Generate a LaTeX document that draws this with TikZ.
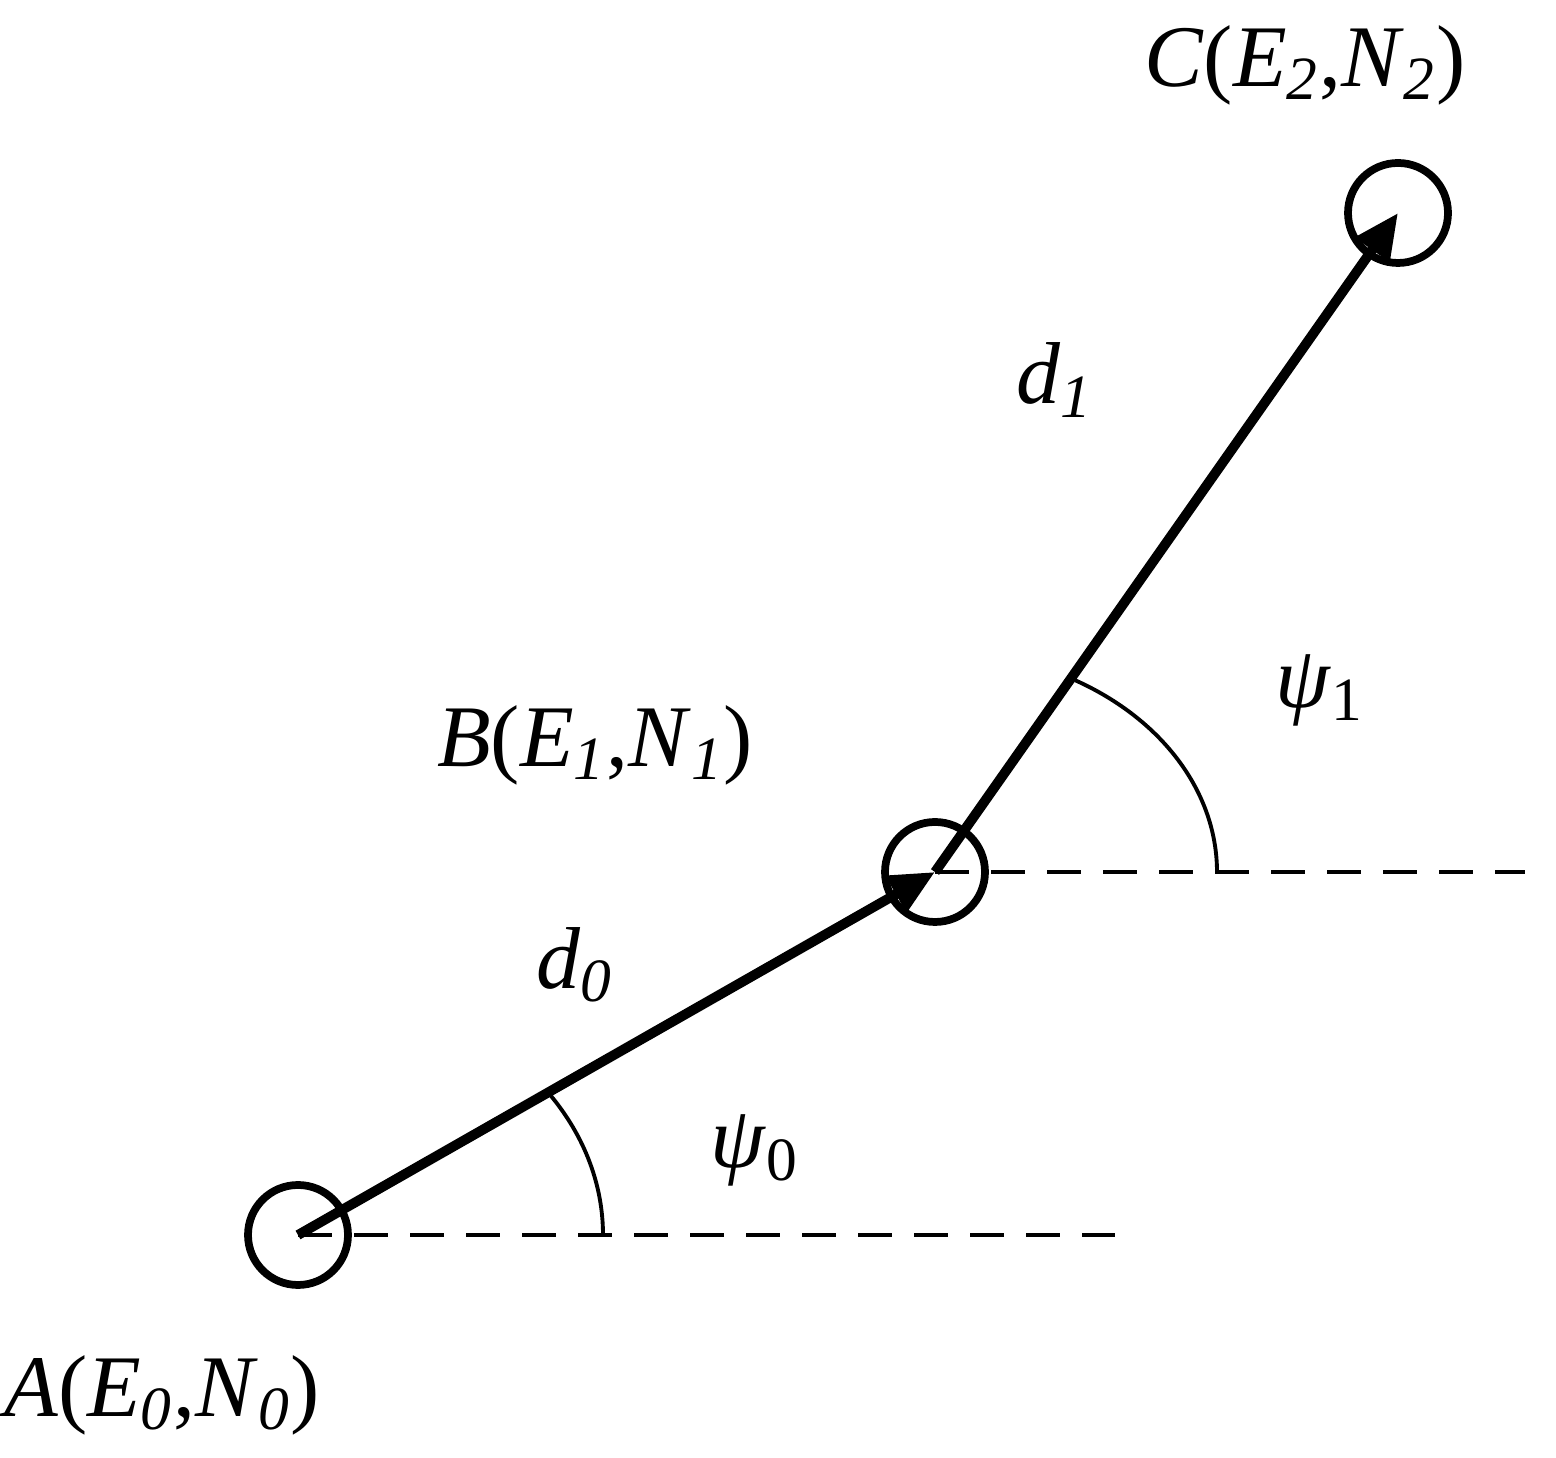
\documentclass[tikz,border=0pt]{standalone}
\usepackage{fontspec}
\setmainfont{Liberation Serif}
\usetikzlibrary{arrows.meta}
\newcommand{\sub}[1]{\textsubscript{\textit{#1}}}
\begin{document}
\begin{tikzpicture}[
    wp/.style={draw, circle, line width=2.2pt, minimum size=1.0cm, inner sep=0pt},
    leg/.style={line width=2.8pt, -{Triangle[length=0.45cm,width=0.4cm]}},
    ref/.style={line width=1.1pt, dash pattern=on 0.34cm off 0.22cm},
    lbl/.style={font=\fontsize{25}{28}\selectfont}]
  \useasboundingbox (0,0) rectangle (15.56,14.58);
  % waypoints
  \node (A) at (2.98,2.23) [wp] {};
  \node (B) at (9.35,5.86) [wp] {};
  \node (C) at (13.98,12.45) [wp] {};
  \coordinate (Aend) at (11.15,2.23);
  \coordinate (Bend) at (15.25,5.86);

  \draw[ref] (A.center) -- (Aend);
  \draw[ref] (B.center) -- (Bend);
  \draw[leg] (A.center) -- (B.center);
  \draw[leg] (B.center) -- (C.center);

  % heading angles
  \draw[line width=1.1pt] (A.center) ++(0:3.05) arc[start angle=0, end angle=34.3, x radius=3.05, y radius=2.49];
  \draw[line width=1.1pt] (B.center) ++(0:2.82) arc[start angle=0, end angle=60.2, x radius=2.82, y radius=2.21];

  \node[lbl] (lC) at (13.05,13.93) {\textit{C}(\textit{E}\sub{2},\textit{N}\sub{2})};
  \node[lbl] (ld1) at (10.55,10.78) {\textit{d}\sub{1}};
  \node[lbl] (lp1) at (13.2,7.68) {\textit{ψ}\textsubscript{1}};
  \node[lbl] (lB) at (5.95,7.13) {\textit{B}(\textit{E}\sub{1},\textit{N}\sub{1})};
  \node[lbl] (ld0) at (5.75,4.93) {\textit{d}\sub{0}};
  \node[lbl] (lp0) at (7.55,3.08) {\textit{ψ}\textsubscript{0}};
  \node[lbl] (lA) at (1.62,0.63) {\textit{A}(\textit{E}\sub{0},\textit{N}\sub{0})};
\end{tikzpicture}
\end{document}
